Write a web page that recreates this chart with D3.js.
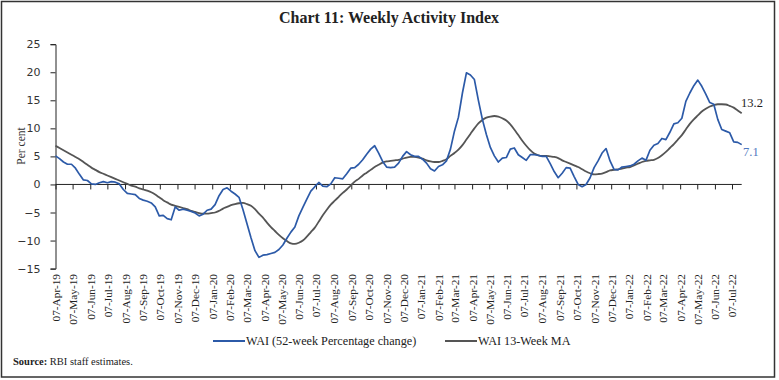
<!DOCTYPE html>
<html>
<head>
<meta charset="utf-8">
<script src="https://cdn.jsdelivr.net/npm/d3@7"></script>
<style>
  html, body { margin: 0; padding: 0; background: #fff; }
  svg { display: block; }
</style>
</head>
<body>
<svg id="chart" width="779" height="380"></svg>
<script>
// ---------- data ----------
const startDate = "2019-04-07";           // first weekly observation
const weekCount = 173;                    // weekly observations to 24-Jul-2022
const yTicks = [-15, -10, -5, 0, 5, 10, 15, 20, 25];
const seriesNames = ["WAI (52-week Percentage change)", "WAI 13-Week MA"];

const waiValues = [
  5.1, 4.6, 4.0, 3.6, 3.6, 2.9, 1.8, 0.8, 0.7, 0.1,
  0.0, 0.3, 0.5, 0.3, 0.5, 0.4, 0.1, -0.9, -1.6, -1.7,
  -1.8, -2.5, -2.8, -3.0, -3.3, -4.0, -5.6, -5.5, -6.1, -6.3,
  -4.0, -4.6, -4.4, -4.6, -4.8, -5.1, -5.6, -5.3, -4.6, -4.4,
  -3.6, -2.0, -0.9, -0.6, -1.2, -1.7, -2.3, -4.5, -7.0, -9.5,
  -11.8, -13.0, -12.6, -12.5, -12.3, -12.1, -11.6, -10.8, -9.6, -8.5,
  -7.6, -5.6, -4.1, -2.6, -1.2, -0.4, 0.35, -0.3, -0.4, 0.1,
  1.2, 1.1, 1.0, 1.9, 2.9, 3.0, 3.6, 4.4, 5.4, 6.3,
  6.9, 5.6, 4.1, 3.1, 3.0, 3.1, 3.8, 5.0, 5.85, 5.3,
  5.0, 5.0, 4.5, 3.8, 2.8, 2.4, 3.2, 3.5, 4.2, 6.3,
  9.5, 12.0, 16.3, 19.9, 19.5, 18.7, 15.0, 11.6, 8.9, 6.6,
  5.1, 4.0, 4.7, 4.8, 6.3, 6.5, 5.3, 4.8, 4.3, 5.3,
  5.3, 5.2, 5.0, 5.0, 3.7, 2.3, 1.2, 2.0, 3.0, 2.9,
  1.4, 0.0, -0.4, 0.0, 1.2, 3.0, 4.2, 5.6, 6.4, 4.2,
  2.7, 2.6, 3.1, 3.2, 3.3, 3.6, 4.2, 4.7, 4.3, 6.1,
  7.0, 7.3, 8.2, 8.0, 9.3, 10.8, 11.0, 11.8, 14.8, 16.3,
  17.6, 18.6, 17.5, 16.1, 14.6, 14.3, 11.6, 9.8, 9.5, 9.2,
  7.6, 7.5, 7.1
];

const maValues = [
  6.9, 6.5, 6.1, 5.7, 5.3, 4.9, 4.5, 4.0, 3.5, 3.0,
  2.6, 2.2, 1.9, 1.6, 1.3, 1.0, 0.7, 0.4, 0.1, -0.2,
  -0.4, -0.7, -0.9, -1.1, -1.4, -1.8, -2.3, -2.8, -3.2, -3.6,
  -3.8, -4.0, -4.2, -4.4, -4.7, -4.9, -5.1, -5.2, -5.2, -5.1,
  -5.0, -4.7, -4.3, -4.0, -3.7, -3.5, -3.35, -3.3, -3.5, -3.8,
  -4.4, -5.2, -5.9, -6.8, -7.6, -8.3, -9.0, -9.6, -10.1, -10.5,
  -10.6, -10.4, -10.0, -9.3, -8.5, -7.7, -6.6, -5.5, -4.5, -3.6,
  -2.9, -2.2, -1.5, -0.9, -0.2, 0.5, 1.0, 1.6, 2.1, 2.6,
  3.1, 3.5, 3.9, 4.1, 4.2, 4.3, 4.4, 4.6, 4.8, 4.9,
  4.9, 4.8, 4.6, 4.3, 4.1, 4.0, 4.0, 4.2, 4.5, 5.1,
  5.6, 6.2, 7.0, 8.0, 9.0, 10.0, 10.9, 11.5, 11.9, 12.1,
  12.2, 12.1, 11.8, 11.4, 10.7, 9.8, 8.8, 7.8, 6.9, 6.1,
  5.5, 5.2, 5.1, 5.1, 5.0, 4.9, 4.7, 4.3, 4.0, 3.7,
  3.4, 3.1, 2.7, 2.3, 2.0, 1.8, 1.85, 1.95, 2.2, 2.5,
  2.6, 2.7, 2.8, 3.0, 3.1, 3.4, 3.7, 4.0, 4.2, 4.3,
  4.4, 4.7, 5.2, 5.8, 6.5, 7.2, 8.0, 8.8, 9.8, 10.8,
  11.6, 12.3, 13.0, 13.5, 13.9, 14.15, 14.3, 14.3, 14.25, 14.0,
  13.7, 13.2, 12.7
];

const endLabels = ["13.2", "7.1"];

// ---------- setup ----------
const parse = d3.timeParse("%Y-%m-%d");
const t0 = parse(startDate);
const dates = d3.range(weekCount).map(i => d3.timeDay.offset(t0, 7 * i));

const svg = d3.select("#chart");
const blue = "#2C5AA8";
const grey = "#555555";
const serif = "'Liberation Serif', 'DejaVu Serif', serif";
const sans = "'DejaVu Sans', Verdana, sans-serif";

// frame
svg.append("rect")
  .attr("x", 1.5).attr("y", 1.5)
  .attr("width", 773).attr("height", 375.5)
  .attr("fill", "none").attr("stroke", "#333").attr("stroke-width", 1.5);

// title
svg.append("text")
  .attr("x", 389).attr("y", 23)
  .attr("text-anchor", "middle")
  .attr("font-family", serif)
  .attr("font-weight", "bold")
  .attr("font-size", 16)
  .attr("fill", "#222")
  .text("Chart 11: Weekly Activity Index");

const x = d3.scaleTime()
  .domain([dates[0], dates[dates.length - 1]])
  .range([55.5, 741.7]);
const y = d3.scaleLinear().domain([-15, 25]).range([268.6, 44.2]);

// y axis
const yAxis = svg.append("g")
  .attr("transform", "translate(55.5,0)")
  .call(d3.axisLeft(y).tickValues(yTicks).tickSize(5).tickPadding(10).tickFormat(d3.format("d")));
yAxis.select(".domain").attr("stroke", "#222").attr("stroke-width", 1);
yAxis.selectAll(".tick line").attr("stroke", "#222");
yAxis.selectAll(".tick text")
  .attr("font-family", sans).attr("font-size", 11).attr("fill", "#333");

// y-axis title
svg.append("text")
  .attr("transform", "translate(25,146) rotate(-90)")
  .attr("text-anchor", "middle")
  .attr("font-family", serif)
  .attr("font-size", 11.5)
  .attr("fill", "#333")
  .text("Per cent");

// month ticks on the 7th of each month
const monthTicks = d3.timeMonth.range(d3.timeMonth.floor(dates[0]), dates[dates.length - 1])
  .map(d => d3.timeDay.offset(d, 6))
  .filter(d => d >= dates[0] && d <= dates[dates.length - 1]);

// x axis at zero
const xAxis = svg.append("g")
  .attr("transform", `translate(0,${y(0)})`)
  .call(d3.axisBottom(x).tickValues(monthTicks).tickSize(5).tickFormat(""));
xAxis.select(".domain").attr("stroke", "#222").attr("stroke-width", 1)
  .attr("d", `M${x.range()[0]},0H${x.range()[1]}`);
xAxis.selectAll(".tick line").attr("stroke", "#222");

// x tick labels at bottom
const fmt = d3.timeFormat("%d-%b-%y");
const xLab = svg.append("g")
  .attr("transform", "translate(0,274)")
  .call(d3.axisBottom(x).tickValues(monthTicks).tickSize(0).tickFormat(fmt));
xLab.select(".domain").remove();
xLab.selectAll(".tick text")
  .attr("font-family", serif)
  .attr("font-size", 11.3)
  .attr("fill", "#222")
  .attr("text-anchor", "end")
  .attr("transform", "rotate(-90)")
  .attr("x", 0).attr("y", 0)
  .attr("dx", 0).attr("dy", "0.35em");

// lines
const line = d3.line().x((d, i) => x(dates[i])).y(d => y(d));
svg.append("path")
  .datum(maValues)
  .attr("fill", "none").attr("stroke", grey).attr("stroke-width", 1.8)
  .attr("d", line.curve(d3.curveMonotoneX));
svg.append("path")
  .datum(waiValues)
  .attr("fill", "none").attr("stroke", blue).attr("stroke-width", 1.7)
  .attr("stroke-linejoin", "round")
  .attr("d", line.curve(d3.curveLinear));

// end labels
svg.append("text")
  .attr("x", 741).attr("y", 107)
  .attr("font-family", serif).attr("font-size", 12.5).attr("fill", "#222")
  .text(endLabels[0]);
svg.append("text")
  .attr("x", 743).attr("y", 156)
  .attr("font-family", serif).attr("font-size", 12.5).attr("fill", "#4f78c0")
  .text(endLabels[1]);

// legend
const legend = [
  { name: seriesNames[0], color: blue, x0: 213 },
  { name: seriesNames[1], color: grey, x0: 445 }
];
const lg = svg.append("g");
legend.forEach(l => {
  lg.append("line")
    .attr("x1", l.x0).attr("x2", l.x0 + 32)
    .attr("y1", 341).attr("y2", 341)
    .attr("stroke", l.color).attr("stroke-width", 2);
  lg.append("text")
    .attr("x", l.x0 + 33).attr("y", 345)
    .attr("font-family", serif).attr("font-size", 12.2)
    .attr("fill", "#222")
    .text(l.name);
});

// source
const src = svg.append("text")
  .attr("x", 13).attr("y", 365)
  .attr("font-family", serif).attr("font-size", 10.5)
  .attr("fill", "#222");
src.append("tspan").attr("font-weight", "bold").text("Source: ");
src.append("tspan").text("RBI staff estimates.");
</script>
</body>
</html>
